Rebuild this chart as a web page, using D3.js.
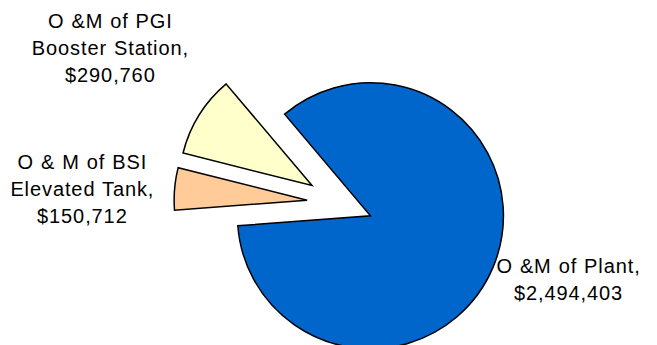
<!DOCTYPE html>
<html>
<head>
<meta charset="utf-8">
<script src="https://cdn.jsdelivr.net/npm/d3@7"></script>
<style>
  body { margin: 0; background: #fff; }
  .lbl { font-family: "Liberation Sans", Arial, sans-serif; font-size: 20px; letter-spacing: 0.9px; word-spacing: 0.5px; fill: #000; }
</style>
</head>
<body>
<div class="diagram"></div>
<script>
var width = 657, height = 345;

// data
var categories = ["O &M of Plant", "O & M of BSI Elevated Tank", "O &M of PGI Booster Station"];
var values = [2494403, 150712, 290760];
var labelLines = [
  ["O &M of Plant,", "$2,494,403"],
  ["O & M of BSI", "Elevated Tank,", "$150,712"],
  ["O &M of PGI", "Booster Station,", "$290,760"]
];
var colors = ["#0066CC", "#FFCC99", "#FFFFCC"];

// layout
var cx = 340, cy = 203, radius = 133, explode = 33;
var startDeg = -40.2;
var labelPos = [{ang: 108.5, dist: 241}, {ang: 273, dist: 258}, {ang: 304, dist: 277}];
var lineH = 27;

var svg = d3.select('.diagram')
  .append('svg')
  .attr('width', width)
  .attr('height', height)
  .append('g')
  .attr('transform', 'translate(' + cx + ',' + cy + ')');

var pie = d3.pie()
  .sort(null)
  .value(function(d) { return d; })
  .startAngle(startDeg * Math.PI / 180)
  .endAngle(startDeg * Math.PI / 180 + 2 * Math.PI);

var arc = d3.arc().innerRadius(0).outerRadius(radius);

var arcs = pie(values);

svg.selectAll('.slice')
  .data(arcs)
  .enter()
  .append('path')
  .attr('class', 'slice')
  .attr('d', arc)
  .attr('fill', function(d, i) { return colors[i]; })
  .attr('stroke', '#000')
  .attr('stroke-width', 1.5)
  .attr('stroke-linejoin', 'miter')
  .attr('transform', function(d) {
    var a = (d.startAngle + d.endAngle) / 2;
    return 'translate(' + (Math.sin(a) * explode) + ',' + (-Math.cos(a) * explode) + ')';
  });

var lbl = svg.selectAll('.lbl')
  .data(arcs)
  .enter()
  .append('text')
  .attr('class', 'lbl')
  .attr('text-anchor', 'middle')
  .attr('transform', function(d, i) {
    var p = labelPos[i], a = p.ang * Math.PI / 180;
    return 'translate(' + (Math.sin(a) * p.dist) + ',' + (-Math.cos(a) * p.dist) + ')';
  });

lbl.each(function(d, i) {
  var lines = labelLines[i];
  var t = d3.select(this);
  lines.forEach(function(s, j) {
    t.append('tspan')
      .attr('x', 0)
      .attr('y', (j - (lines.length - 1) / 2) * lineH + 7)
      .text(s);
  });
});
</script>
</body>
</html>
